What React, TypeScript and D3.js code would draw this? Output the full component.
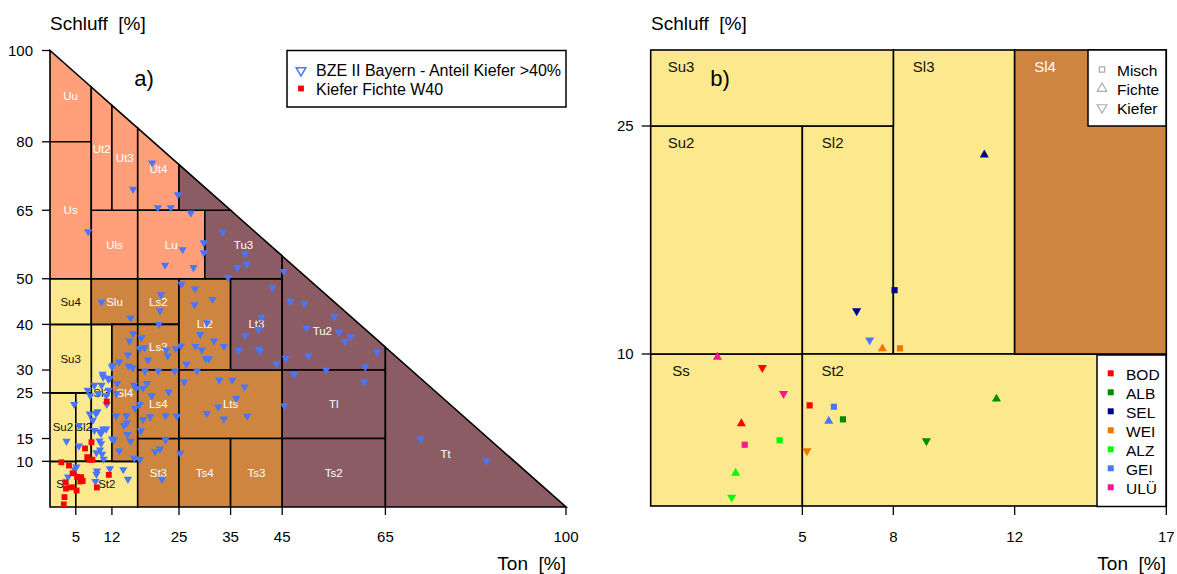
import React from "react";
import * as d3 from "d3";

// ---- axis ticks ----
const tonTicksA = [5, 12, 25, 35, 45, 65, 100];
const schluffTicksA = [10, 15, 25, 30, 40, 50, 65, 80, 100];
const tonTicksB = [5, 8, 12, 17];
const schluffTicksB = [10, 25];

// ---- KA5 soil texture classes (Ton / Schluff ranges in %) ----
const classNames = ["Ss", "Su2", "Sl2", "Sl3", "St2", "Su3", "Su4", "Slu", "Sl4", "St3", "Ls2", "Ls3", "Ls4", "Lt2", "Lts", "Ts4", "Ts3", "Lt3", "Uu", "Us", "Uls", "Ut2", "Ut3", "Ut4", "Lu", "Tu3", "Tu4", "Tu2", "Tl", "Ts2", "Tt"];
const classTonMin = [0, 0, 5, 8, 5, 0, 0, 8, 12, 17, 17, 17, 17, 25, 25, 25, 35, 35, 0, 0, 8, 8, 12, 17, 17, 30, 25, 45, 45, 45, 65];
const classTonMax = [5, 5, 8, 12, 17, 8, 8, 17, 17, 25, 25, 25, 25, 35, 45, 35, 45, 45, 8, 8, 17, 12, 17, 25, 30, 45, 35, 65, 65, 65, 100];
const classSchluffMin = [0, 10, 10, 10, 0, 25, 40, 40, 10, 0, 40, 30, 15, 30, 15, 0, 0, 30, 80, 50, 50, 65, 65, 65, 50, 50, 65, 30, 15, 0, 0];
const classSchluffMax = [10, 25, 25, 40, 10, 40, 50, 50, 40, 15, 50, 40, 30, 50, 30, 15, 15, 50, 100, 80, 65, 100, 100, 100, 65, 65, 100, 100, 30, 15, 100];
const classGroup = ["S", "S", "S", "S", "S", "S", "S", "L", "L", "L", "L", "L", "L", "L", "L", "L", "L", "T", "U", "U", "U", "U", "U", "U", "U", "T", "T", "T", "T", "T", "T"];
const classLabelShown = classNames.map((n) => n !== "Tu4");

const groupFill: Record<string, string> = { S: "#FCE98E", L: "#CD853F", U: "#FFA07A", T: "#8B5C63" };
const groupText: Record<string, string> = { S: "#111111", L: "#FFFFFF", U: "#FFFFFF", T: "#FFFFFF" };

// ---- BZE II Bayern profiles, share of pine > 40 % ----
const bzeTon = [19.8, 16.1, 24.8, 20.9, 23.4, 27.3, 7.4, 33.5, 29.8, 25.7, 29.8, 37.8, 38.1, 22.3, 27.8, 36.3, 45.3, 34.5, 25.5, 28.1, 43.1, 21.5, 10.0, 31.5, 28.0, 46.6, 21.3, 15.6, 41.0, 21.1, 30.4, 40.4, 16.1, 29.1, 37.8, 17.7, 15.4, 31.8, 17.4, 18.3, 22.5, 24.4, 25.4, 28.2, 29.4, 33.7, 36.6, 40.4, 40.7, 15.1, 22.8, 19.0, 30.2, 30.8, 13.4, 12.2, 15.2, 16.0, 12.0, 43.9, 45.7, 47.3, 18.4, 21.0, 24.2, 28.5, 10.2, 10.3, 11.3, 11.6, 13.0, 12.9, 8.6, 10.0, 11.4, 18.8, 16.3, 18.0, 16.7, 26.0, 32.8, 35.3, 37.7, 36.1, 23.0, 19.7, 7.3, 7.8, 9.3, 10.9, 11.0, 4.7, 17.4, 16.5, 32.6, 30.4, 38.2, 45.4, 12.8, 14.8, 19.4, 22.4, 24.6, 7.7, 9.2, 8.9, 8.3, 18.0, 14.3, 14.9, 5.6, 8.6, 9.6, 10.3, 10.9, 9.9, 17.6, 15.0, 12.0, 12.4, 9.6, 9.9, 3.2, 5.6, 22.4, 21.3, 20.4, 15.6, 13.4, 25.2, 9.0, 9.7, 10.1, 10.4, 16.3, 17.4, 5.1, 4.8, 3.5, 9.1, 9.0, 11.6, 14.2, 15.1, 8.8, 21.7, 49.3, 55.1, 49.7, 56.0, 57.1, 58.3, 63.4, 50.1, 61.1, 53.5, 60.9, 71.8, 84.6, 33.7, 26.4];
const bzeSchluff = [75.4, 69.6, 68.4, 65.6, 65.6, 64.4, 60.3, 60.2, 57.9, 56.4, 55.7, 55.5, 53.2, 53.0, 52.5, 52.5, 51.6, 50.3, 48.8, 47.8, 48.1, 46.5, 44.9, 45.5, 44.3, 45.1, 43.0, 41.4, 41.6, 40.0, 40.4, 38.9, 38.0, 37.8, 37.6, 37.1, 36.4, 36.4, 34.7, 34.9, 34.4, 34.7, 35.3, 35.2, 34.4, 35.2, 34.3, 34.6, 34.2, 33.3, 33.1, 32.2, 32.5, 32.5, 31.8, 31.1, 30.9, 30.5, 30.7, 31.4, 32.6, 29.1, 29.8, 29.8, 29.8, 29.8, 29.1, 28.5, 28.0, 28.2, 27.1, 24.9, 26.7, 26.7, 25.6, 27.1, 26.7, 26.0, 26.0, 27.4, 27.8, 27.8, 26.3, 23.8, 25.2, 24.4, 25.6, 24.4, 24.9, 24.4, 22.5, 22.5, 22.5, 21.6, 21.9, 20.5, 19.9, 22.2, 20.0, 20.0, 19.8, 20.0, 19.9, 20.4, 20.9, 20.5, 19.0, 19.2, 17.9, 18.4, 17.9, 16.8, 16.5, 17.1, 17.1, 16.1, 16.7, 15.9, 14.9, 14.7, 14.5, 13.9, 14.4, 13.4, 14.7, 12.7, 12.1, 14.4, 12.3, 11.8, 11.9, 12.5, 11.6, 10.5, 10.7, 10.4, 8.8, 8.2, 6.6, 7.9, 7.2, 8.4, 8.2, 6.1, 5.6, 6.1, 44.6, 41.7, 39.2, 38.3, 36.3, 37.3, 34.0, 33.1, 30.7, 30.0, 27.4, 14.9, 10.1, 19.3, 31.3];

// ---- W40 sites: one profile per site and stand type ----
const siteNames = ["BOD", "ALB", "SEL", "WEI", "ALZ", "GEI", "ULÜ"];
const siteColors = ["#FF0000", "#008B00", "#00008B", "#EE7600", "#00FF00", "#4876FF", "#FF1493"];
const standNames = ["Misch", "Fichte", "Kiefer"];
const w40Site = ["BOD", "BOD", "BOD", "ALB", "ALB", "ALB", "SEL", "SEL", "SEL", "WEI", "WEI", "WEI", "ALZ", "ALZ", "ALZ", "GEI", "GEI", "GEI", "ULÜ", "ULÜ", "ULÜ"];
const w40Stand = ["Misch", "Fichte", "Kiefer", "Misch", "Fichte", "Kiefer", "Misch", "Fichte", "Kiefer", "Misch", "Fichte", "Kiefer", "Misch", "Fichte", "Kiefer", "Misch", "Fichte", "Kiefer", "Misch", "Fichte", "Kiefer"];
const w40Ton = [5.24, 2.99, 3.68, 6.34, 11.4, 9.09, 8.04, 11.0, 6.79, 8.22, 7.64, 5.15, 4.25, 2.8, 2.67, 6.04, 5.87, 7.22, 3.1, 2.2, 4.38];
const w40Schluff = [6.62, 5.42, 9.1, 5.7, 7.04, 4.28, 14.2, 23.1, 12.83, 10.37, 10.35, 3.62, 4.32, 2.17, 0.57, 6.53, 5.59, 10.92, 4.03, 9.8, 7.39];

const FONT = "'Liberation Sans', Arial, Helvetica, sans-serif";
const BZE_BLUE = "#4876FF";

type Pt = [number, number];

// keep the part of a polygon with Ton + Schluff <= 100
function clipToTriangle(poly: Pt[]): Pt[] {
  const out: Pt[] = [];
  const inside = (p: Pt) => p[0] + p[1] <= 100 + 1e-9;
  for (let i = 0; i < poly.length; i++) {
    const a = poly[i];
    const b = poly[(i + 1) % poly.length];
    const ia = inside(a);
    const ib = inside(b);
    if (ia) out.push(a);
    if (ia !== ib) {
      const t = (100 - a[0] - a[1]) / (b[0] - a[0] + (b[1] - a[1]));
      out.push([a[0] + t * (b[0] - a[0]), a[1] + t * (b[1] - a[1])]);
    }
  }
  return out;
}

// label anchor: middle of the bounding box, or the centroid for strongly cut classes
function labelAnchor(poly: Pt[]): Pt {
  const xs = poly.map((p) => p[0]);
  const ys = poly.map((p) => p[1]);
  const [x0, x1] = [Math.min(...xs), Math.max(...xs)];
  const [y0, y1] = [Math.min(...ys), Math.max(...ys)];
  const boxArea = (x1 - x0) * (y1 - y0);
  const area = Math.abs(d3.polygonArea(poly));
  if (area < 0.7 * boxArea) return d3.polygonCentroid(poly);
  return [(x0 + x1) / 2, (y0 + y1) / 2];
}

const classes = classNames.map((name, i) => ({
  name,
  group: classGroup[i],
  showLabel: classLabelShown[i],
  t0: classTonMin[i],
  t1: classTonMax[i],
  u0: classSchluffMin[i],
  u1: classSchluffMax[i],
}));

const symTri = d3.symbol().type(d3.symbolTriangle);
const symSq = d3.symbol().type(d3.symbolSquare);

function marker(stand: string, size: number, sqSize: number) {
  if (stand === "Misch") return { d: symSq.size(sqSize)()!, rot: 0 };
  if (stand === "Fichte") return { d: symTri.size(size)()!, rot: 0 };
  return { d: symTri.size(size)()!, rot: 180 };
}

function PanelA() {
  const x = d3.scaleLinear().domain([0, 100]).range([50, 566]);
  const y = d3.scaleLinear().domain([0, 100]).range([507, 50.5]);
  const line = d3.line<Pt>().x((p) => x(p[0])).y((p) => y(p[1]));
  const polys = classes.map((c) => {
    const poly = clipToTriangle([
      [c.t0, c.u0],
      [c.t1, c.u0],
      [c.t1, c.u1],
      [c.t0, c.u1],
    ]);
    return { ...c, poly, anchor: labelAnchor(poly) };
  });
  const down = symTri.size(30)()!;
  const sq = symSq.size(34)()!;
  return (
    <g>
      {polys.map((c) => (
        <path key={c.name} d={line(c.poly)! + "Z"} fill={groupFill[c.group]} stroke="#000" strokeWidth={1.6} strokeLinejoin="miter" />
      ))}
      {polys
        .filter((c) => c.showLabel)
        .map((c) => (
          <text key={"l" + c.name} x={x(c.anchor[0])} y={y(c.anchor[1])} dy="0.35em" textAnchor="middle" fontSize={11.5} fill={groupText[c.group]}>
            {c.name}
          </text>
        ))}
      {bzeTon.map((t, i) => (
        <path key={"b" + i} d={down} transform={`translate(${x(t)},${y(bzeSchluff[i])}) rotate(180)`} fill={BZE_BLUE} />
      ))}
      {w40Ton.map((t, i) => (
        <path key={"w" + i} d={sq} transform={`translate(${x(t)},${y(w40Schluff[i])})`} fill="#FF0000" />
      ))}
      {/* axes */}
      {schluffTicksA.map((v) => (
        <g key={"yt" + v}>
          <line x1={x(0) - 8} x2={x(0)} y1={y(v)} y2={y(v)} stroke="#000" strokeWidth={1.3} />
          <text x={x(0) - 17} y={y(v)} dy="0.35em" textAnchor="end" fontSize={15}>
            {v}
          </text>
        </g>
      ))}
      {tonTicksA.map((v) => (
        <g key={"xt" + v}>
          <line x1={x(v)} x2={x(v)} y1={y(0)} y2={y(0) + 8} stroke="#000" strokeWidth={1.3} />
          <text x={x(v)} y={542} textAnchor="middle" fontSize={15}>
            {v}
          </text>
        </g>
      ))}
      <text x={50} y={29.5} fontSize={19} style={{ whiteSpace: "pre" }}>
        {"Schluff  [%]"}
      </text>
      <text x={566} y={569.5} textAnchor="end" fontSize={19} style={{ whiteSpace: "pre" }}>
        {"Ton  [%]"}
      </text>
      <text x={144} y={86} textAnchor="middle" fontSize={22}>
        a)
      </text>
      {/* legend */}
      <rect x={287} y={50.5} width={279} height={56.5} fill="#fff" stroke="#000" strokeWidth={1.5} />
      <path d={symTri.size(40)()!} transform="translate(301,70.5) rotate(180)" fill="none" stroke={BZE_BLUE} strokeWidth={1.5} />
      <text x={316} y={75.5} fontSize={16}>
        BZE II Bayern - Anteil Kiefer &gt;40%
      </text>
      <path d={sq} transform="translate(301,88.5)" fill="#FF0000" />
      <text x={316} y={94.5} fontSize={16}>
        Kiefer Fichte W40
      </text>
    </g>
  );
}

function PanelB() {
  const x = d3.scaleLinear().domain([0, 17]).range([650.7, 1166.3]);
  const y = d3.scaleLinear().domain([0, 30]).range([506, 50]);
  const [tMax, uMax] = [17, 30];
  const rects = classes
    .map((c) => ({ ...c, a0: c.t0, a1: Math.min(c.t1, tMax), b0: c.u0, b1: Math.min(c.u1, uMax) }))
    .filter((c) => c.a1 > c.a0 && c.b1 > c.b0);
  const colorOf = (s: string) => siteColors[siteNames.indexOf(s)];
  return (
    <g>
      {rects.map((c) => (
        <rect key={c.name} x={x(c.a0)} y={y(c.b1)} width={x(c.a1) - x(c.a0)} height={y(c.b0) - y(c.b1)} fill={groupFill[c.group]} stroke="#000" strokeWidth={1.6} />
      ))}
      {rects.map((c) => (
        <text key={"l" + c.name} x={x(c.a0 + 1)} y={y(c.b1) + 22} textAnchor="middle" fontSize={15} fill={groupText[c.group]}>
          {c.name}
        </text>
      ))}
      {w40Ton.map((t, i) => {
        const m = marker(w40Stand[i], 36, 38);
        return <path key={"p" + i} d={m.d} transform={`translate(${x(t)},${y(w40Schluff[i])}) rotate(${m.rot})`} fill={colorOf(w40Site[i])} />;
      })}
      {schluffTicksB.map((v) => (
        <g key={"yt" + v}>
          <line x1={x(0) - 9} x2={x(0)} y1={y(v)} y2={y(v)} stroke="#000" strokeWidth={1.3} />
          <text x={x(0) - 17} y={y(v)} dy="0.35em" textAnchor="end" fontSize={15}>
            {v}
          </text>
        </g>
      ))}
      {tonTicksB.map((v) => (
        <g key={"xt" + v}>
          <line x1={x(v)} x2={x(v)} y1={y(0)} y2={y(0) + 9} stroke="#000" strokeWidth={1.3} />
          <text x={x(v)} y={542} textAnchor="middle" fontSize={15}>
            {v}
          </text>
        </g>
      ))}
      <text x={651} y={29.5} fontSize={19} style={{ whiteSpace: "pre" }}>
        {"Schluff  [%]"}
      </text>
      <text x={1166} y={569.5} textAnchor="end" fontSize={19} style={{ whiteSpace: "pre" }}>
        {"Ton  [%]"}
      </text>
      <text x={720} y={86} textAnchor="middle" fontSize={22}>
        b)
      </text>
      {/* stand type legend */}
      <rect x={1088} y={50} width={78} height={76} fill="#fff" stroke="#000" strokeWidth={1.5} />
      {standNames.map((s, i) => {
        const m = marker(s, 40, 28);
        return (
          <g key={s}>
            <path d={m.d} transform={`translate(1102,${69.5 + i * 19}) rotate(${m.rot})`} fill="none" stroke="#AAAAAA" strokeWidth={1.2} />
            <text x={1117} y={75.5 + i * 19} fontSize={15.5}>
              {s}
            </text>
          </g>
        );
      })}
      {/* site legend */}
      <rect x={1097} y={355} width={69} height={151.5} fill="#fff" stroke="#000" strokeWidth={1.5} />
      {siteNames.map((s, i) => (
        <g key={s}>
          <path d={symSq.size(36)()!} transform={`translate(1110.7,${373.3 + i * 19})`} fill={siteColors[i]} />
          <text x={1126} y={380.3 + i * 19} fontSize={15.5}>
            {s}
          </text>
        </g>
      ))}
    </g>
  );
}

export default function App() {
  return (
    <svg
      width={1177}
      height={574}
      viewBox="0 0 1177 574"
      style={{ position: "absolute", left: 0, top: 0, display: "block", background: "#fff" }}
      fontFamily={FONT}
    >
      <rect width={1177} height={574} fill="#fff" />
      <PanelA />
      <PanelB />
    </svg>
  );
}
